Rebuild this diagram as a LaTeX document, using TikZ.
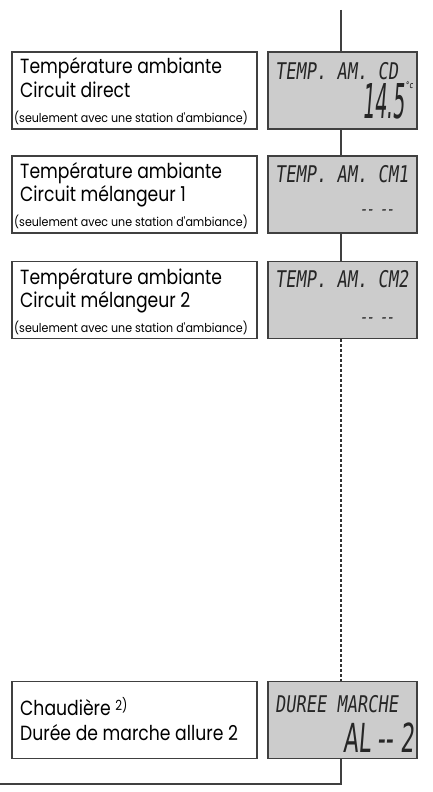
\documentclass[tikz,border=0pt]{standalone}
\usepackage{fontspec}
\setmainfont{Poppins}
\newfontfamily\lblfont[FakeStretch=0.84]{Poppins}
\newfontfamily\smallfont[FakeStretch=0.9]{Poppins}
\newfontfamily\lcdfont[FakeStretch=0.74,FakeSlant=0.12]{DejaVu Sans Mono}
\newfontfamily\lcdbold[FakeStretch=0.74,FakeSlant=0.12,FakeBold=2]{DejaVu Sans Mono}
\newfontfamily\lcdbig[FakeStretch=0.4,FakeSlant=0.08]{DejaVu Sans}
\newfontfamily\lcdmid[FakeStretch=0.55,FakeSlant=0.08]{DejaVu Sans}
\begin{document}
\begin{tikzpicture}[x=1pt,y=-1pt,
  lbl/.style={draw=black!75,line width=1.4pt,fill=white,minimum width=245pt,minimum height=77pt,inner sep=0pt},
  lcd/.style={draw=black!75,line width=1.4pt,fill=black!20,minimum width=149pt,minimum height=77pt,inner sep=0pt},
  big/.style={font=\lblfont\fontsize{20.5}{20.5}\selectfont,anchor=base west,inner sep=0pt},
  small/.style={font=\smallfont\fontsize{12.3}{12.3}\selectfont,anchor=base west,inner sep=0pt},
  lcdtxt/.style={font=\lcdfont\fontsize{23}{23}\selectfont,anchor=base west,inner sep=0pt,text=black!85},
  lcddash/.style={font=\lcdbold\fontsize{15}{15}\selectfont,anchor=base west,inner sep=0pt,text=black!85},
  lcdval/.style={font=\lcdbig\fontsize{48}{48}\selectfont,anchor=base east,inner sep=0pt,text=black!85},
  conn/.style={draw=black!75,line width=1.2pt},
  dconn/.style={draw=black!80,line width=1.2pt,dash pattern=on 3pt off 2pt}]
\useasboundingbox (0,0) rectangle (432,792);
% boxes
\node[lbl] (b1) at (134.5,90.5) {};
\node[lcd] (d1) at (342.5,90.5) {};
\node[lbl] (b2) at (134.5,194.5) {};
\node[lcd] (d2) at (342.5,194.5) {};
\node[lbl] (b3) at (134.5,300) {};
\node[lcd] (d3) at (342.5,300) {};
\node[lbl] (b4) at (134.5,720) {};
\node[lcd] (d4) at (342.5,720) {};
% connectors
\coordinate (top) at (341,10);
\coordinate (bend) at (341,784);
\coordinate (endl) at (0,784);
\draw[conn] (top) -- (top |- d1.north);
\draw[conn] (d1.south -| top) -- (d2.north -| top);
\draw[conn] (d2.south -| top) -- (d3.north -| top);
\draw[dconn] (d3.south -| top) -- (d4.north -| top);
\draw[conn] (d4.south -| top) -- (bend) -- (endl);
% label texts
\node[big] (t1a) at (20,74) {Température ambiante};
\node[big] (t1b) at (20,97) {Circuit direct};
\node[small] (t1c) at (14,122) {(seulement avec une station d'ambiance)};
\node[big] (t2a) at (20,178) {Température ambiante};
\node[big] (t2b) at (20,201) {Circuit mélangeur 1};
\node[small] (t2c) at (14,226) {(seulement avec une station d'ambiance)};
\node[big] (t3a) at (20,284) {Température ambiante};
\node[big] (t3b) at (20,307) {Circuit mélangeur 2};
\node[small] (t3c) at (14,332) {(seulement avec une station d'ambiance)};
\node[big] (t4a) at (20,715) {Chaudière \raisebox{5pt}{\fontsize{14}{14}\selectfont 2)}};
\node[big] (t4b) at (20,740) {Durée de marche allure 2};
% lcd texts
\node[lcdtxt] (l1a) at (275,80) {TEMP. AM. CD};
\node[lcdval] (l1b) at (405,118) {14.5};
\node[font=\lcdfont\fontsize{9}{9}\selectfont,anchor=north west,inner sep=0pt] (l1c) at (405,82) {°c};
\node[lcdtxt] (l2a) at (275,182) {TEMP. AM. CM1};
\node[lcddash] (l2b) at (360,214) {-- --};
\node[lcdtxt] (l3a) at (275,287) {TEMP. AM. CM2};
\node[lcddash] (l3b) at (360,322) {-- --};
\node[lcdtxt] (l4a) at (275,712) {DUREE MARCHE};
\node[lcdval,font=\lcdmid\fontsize{40}{40}\selectfont] (l4b) at (415,752) {AL -- 2};
\end{tikzpicture}
\end{document}
